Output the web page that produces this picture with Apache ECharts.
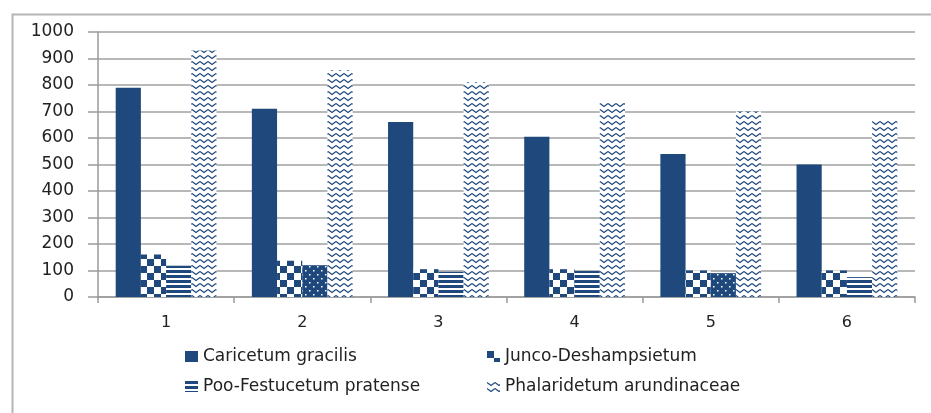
<!DOCTYPE html>
<html>
<head>
<meta charset="utf-8">
<script src="https://cdn.jsdelivr.net/npm/echarts@6/dist/echarts.min.js"></script>
<style>
html,body{margin:0;padding:0;background:#fff;}
#chart{width:931px;height:413px;}
</style>
</head>
<body>
<div id="chart"></div>
<script>
const categories = ['1', '2', '3', '4', '5', '6'];
const seriesNames = ['Caricetum gracilis', 'Junco-Deshampsietum', 'Poo-Festucetum pratense', 'Phalaridetum arundinaceae'];
const caricetum = [790, 710, 660, 605, 540, 500];
const junco = [160, 137, 105, 105, 100, 100];
const poo = [118, 120, 95, 98, 90, 75];
const phalaridetum = [930, 856, 810, 740, 700, 670];
const yTicks = { min: 0, max: 1000, interval: 100 };

const BLUE = '#1F497D';

function makeCanvas(w, h, draw) {
  const c = document.createElement('canvas');
  c.width = w; c.height = h;
  const ctx = c.getContext('2d');
  ctx.fillStyle = '#fff';
  ctx.fillRect(0, 0, w, h);
  draw(ctx);
  return { image: c, repeat: 'repeat' };
}
const checker = makeCanvas(14, 14, ctx => {
  ctx.fillStyle = BLUE;
  ctx.fillRect(0, 0, 7, 7);
  ctx.fillRect(7, 7, 7, 7);
});
const stripes = makeCanvas(4, 5, ctx => {
  ctx.fillStyle = BLUE;
  ctx.fillRect(0, 0, 4, 3);
});
const zigzag = makeCanvas(8, 6, ctx => {
  ctx.strokeStyle = BLUE;
  ctx.lineWidth = 1.2;
  ctx.beginPath();
  ctx.moveTo(0, 1.5); ctx.lineTo(4, 4.5); ctx.lineTo(8, 1.5);
  ctx.stroke();
});
const dots = makeCanvas(8, 8, ctx => {
  ctx.fillStyle = BLUE;
  ctx.fillRect(0, 0, 8, 8);
  ctx.fillStyle = '#fff';
  ctx.fillRect(5, 2, 1.5, 1.5);
  ctx.fillRect(1, 6, 1.5, 1.5);
});

const pooData = poo.map((v, i) => (i === 1 || i === 4) ? { value: v, itemStyle: { color: dots } } : v);

const FONT = 'DejaVu Sans';
const legendBase = {
  orient: 'horizontal', itemWidth: 13, itemHeight: 11, itemGap: 6,
  textStyle: { fontFamily: FONT, fontSize: 17, color: '#222' }, icon: 'rect'
};

const chart = echarts.init(document.getElementById('chart'), null, { renderer: 'canvas' });
chart.setOption({
  animation: false,
  backgroundColor: '#fff',
  textStyle: { fontFamily: FONT },
  graphic: [{
    type: 'rect', left: 10, top: 12, silent: true,
    shape: { width: 940, height: 420 },
    style: { fill: 'none', stroke: '#b5b5b5', lineWidth: 2 }
  }],
  grid: { left: 98, right: 16, top: 32, bottom: 116 },
  legend: [
    Object.assign({}, legendBase, { data: [seriesNames[0]], left: 180, top: 343 }),
    Object.assign({}, legendBase, { data: [seriesNames[1]], left: 482, top: 343 }),
    Object.assign({}, legendBase, { data: [seriesNames[2]], left: 180, top: 373 }),
    Object.assign({}, legendBase, { data: [seriesNames[3]], left: 482, top: 373 })
  ],
  xAxis: {
    type: 'category', data: categories,
    axisLine: { lineStyle: { color: '#9a9a9a', width: 1.5 } },
    axisTick: { show: true, length: 6, lineStyle: { color: '#9a9a9a', width: 1.5 } },
    axisLabel: { fontFamily: FONT, fontSize: 16, color: '#222', margin: 18 }
  },
  yAxis: {
    type: 'value', min: yTicks.min, max: yTicks.max, interval: yTicks.interval,
    axisLine: { show: true, lineStyle: { color: '#9a9a9a', width: 1.5 } },
    axisTick: { show: true, length: 10, lineStyle: { color: '#9a9a9a', width: 1.5 } },
    splitLine: { lineStyle: { color: '#a0a0a0', width: 1.5 } },
    axisLabel: { fontFamily: FONT, fontSize: 17, color: '#222', margin: 24, formatter: v => String(v) }
  },
  series: [
    { name: seriesNames[0], type: 'bar', data: caricetum, barGap: '0%', barCategoryGap: '26%', itemStyle: { color: BLUE } },
    { name: seriesNames[1], type: 'bar', data: junco, itemStyle: { color: checker } },
    { name: seriesNames[2], type: 'bar', data: pooData, itemStyle: { color: stripes } },
    { name: seriesNames[3], type: 'bar', data: phalaridetum, itemStyle: { color: zigzag } }
  ]
});
</script>
</body>
</html>
